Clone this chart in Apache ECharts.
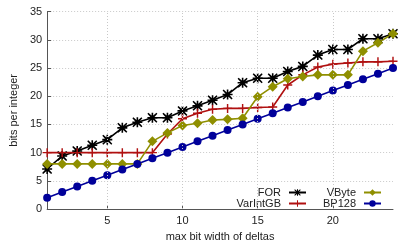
<!DOCTYPE html>
<html>
<head>
<meta charset="utf-8">
<script src="https://cdn.jsdelivr.net/npm/echarts@6/dist/echarts.min.js"></script>
<style>html,body{margin:0;padding:0;background:#fff}#c{width:411px;height:247px}</style>
</head>
<body>
<div id="c"></div>
<script>
var xValues = [1,2,3,4,5,6,7,8,9,10,11,12,13,14,15,16,17,18,19,20,21,22,23,24];
var forValues = [7.1,9.4,10.3,11.3,12.3,14.4,15.4,16.2,16.2,17.4,18.3,19.3,20.3,22.4,23.2,23.2,24.4,25.3,27.3,28.3,28.3,30.2,30.2,31.1];
var varIntGBValues = [10,10,10,10,10,10,10,10,13.3,16,17,17.7,17.85,17.85,18,18.1,22,23.8,25.2,25.7,25.9,26.1,26.1,26.2];
var vbyteValues = [8,8,8,8,8,8,8,12,13.5,14.8,15.2,15.8,15.9,16.1,19.9,21.7,23.1,23.5,23.8,23.8,23.8,28,29.5,31.1];
var bp128Values = [2,3,4,5,6,7,8,9,10,11,12,13,14,15,16,17,18,19,20,21,22,23,24,25];
var xTicks = [5,10,15,20];
var yTicks = [0,5,10,15,20,25,30,35];

function pairs(vals){ return xValues.map(function(x,i){ return [x, vals[i]]; }); }

var starPath = 'path://M1,0 L5,3.6 L9,0 L10,1 L6.4,5 L10,9 L9,10 L5,6.4 L1,10 L0,9 L3.6,5 L0,1 Z M4.2,0 L5.8,0 L5.8,10 L4.2,10 Z M0,4.2 L10,4.2 L10,5.8 L0,5.8 Z';
var plusPath = 'path://M4.2,0 L5.8,0 L5.8,4.2 L10,4.2 L10,5.8 L5.8,5.8 L5.8,10 L4.2,10 L4.2,5.8 L0,5.8 L0,4.2 L4.2,4.2 Z';

var font = 'Liberation Sans, Arial, sans-serif';
var chart = echarts.init(document.getElementById('c'), null, {renderer:'canvas'});

function legendItem(name, right, top){
  return {data:[name], right:right, top:top, align:'right', itemWidth:17, itemHeight:8, itemGap:0, padding:0,
    textStyle:{fontFamily:font, fontSize:11, color:'#222', padding:[0,3,0,0]}, selectedMode:false};
}

function ser(name, vals, color, symbol, size){
  return {name:name, type:'line', data:pairs(vals), symbol:symbol, symbolSize:size, z:3,
    lineStyle:{color:color, width:1.6}, itemStyle:{color:color}, color:color, animation:false};
}

var gridSeries = {type:'line', data:[], silent:true, z:1,
  markLine:{silent:true, symbol:'none', label:{show:false},
    lineStyle:{color:'#c8c8c8', type:[1,2], width:1},
    data:xTicks.map(function(v){ return {xAxis:v}; })}
};

chart.setOption({
  animation:false,
  grid:{left:43, right:18, top:11.7, bottom:34.7},
  legend:[
    legendItem('FOR', 104, 187),
    legendItem('VarIntGB', 104, 198),
    legendItem('VByte', 29, 187),
    legendItem('BP128', 29, 198)
  ],
  xAxis:{type:'value', min:1, max:24,
    name:'max bit width of deltas', nameLocation:'middle', nameGap:22,
    nameTextStyle:{fontFamily:font, fontSize:11, color:'#222'},
    axisLine:{show:true, lineStyle:{color:'#555', width:1}},
    axisTick:{show:true, inside:true, length:4, customValues:xTicks, lineStyle:{color:'#555'}},
    axisLabel:{customValues:xTicks, fontFamily:font, fontSize:11, color:'#222', margin:6},
    splitLine:{show:false}
  },
  yAxis:{type:'value', min:0, max:35, interval:5,
    name:'bits per integer', nameLocation:'middle', nameGap:26,
    nameTextStyle:{fontFamily:font, fontSize:11, color:'#222'},
    axisLine:{show:true, lineStyle:{color:'#555', width:1}},
    axisTick:{show:true, inside:true, length:4, lineStyle:{color:'#555'}},
    axisLabel:{fontFamily:font, fontSize:11, color:'#222', margin:5},
    splitLine:{show:true, lineStyle:{color:'#c8c8c8', type:[1,2], width:1}}
  },
  series:[
    gridSeries,
    ser('FOR', forValues, '#000000', starPath, 10),
    ser('VarIntGB', varIntGBValues, '#b01010', plusPath, 9),
    ser('VByte', vbyteValues, '#8f8f00', 'diamond', 10),
    ser('BP128', bp128Values, '#00009a', 'circle', 8)
  ]
});
</script>
</body>
</html>
